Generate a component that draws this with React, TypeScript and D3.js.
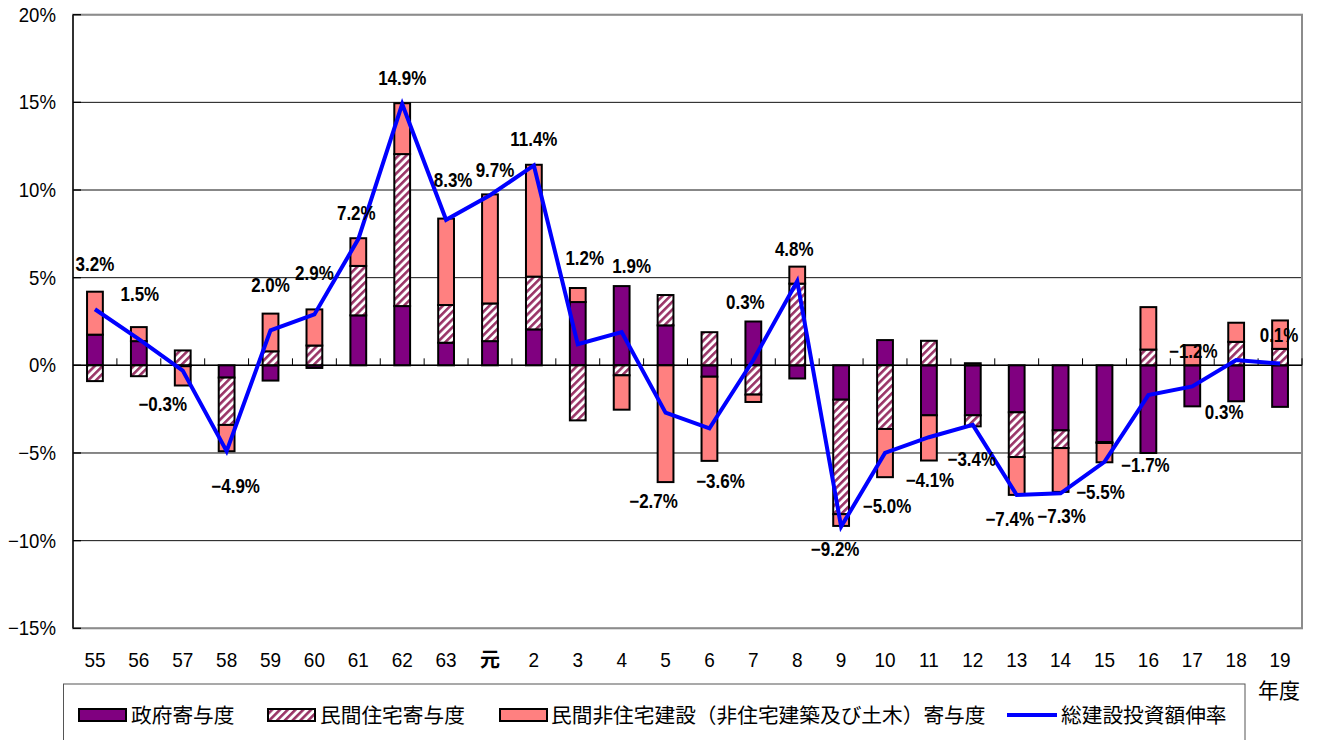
import { useMemo } from "react"
import * as d3 from "d3"

// fiscal years (Showa 55 .. Heisei 19)
const categories = ["55", "56", "57", "58", "59", "60", "61", "62", "63", "元", "2", "3", "4", "5", "6", "7", "8", "9", "10", "11", "12", "13", "14", "15", "16", "17", "18", "19"]

// 政府寄与度
const govt = [1.75, 1.38, -0.05, -0.7, -0.87, -0.15, 2.85, 3.38, 1.29, 1.38, 2.05, 3.61, 4.52, 2.28, -0.65, 2.5, -0.75, -1.96, 1.44, -2.85, -2.85, -2.68, -3.71, -4.38, -5.0, -2.34, -2.05, -2.37]
// 民間住宅寄与度
const housing = [-0.9, -0.62, 0.85, -2.7, 0.8, 1.13, 2.82, 8.67, 2.15, 2.15, 3.01, -3.14, -0.57, 1.73, 1.89, -1.67, 4.66, -6.53, -3.63, 1.4, -0.63, -2.55, -1.01, -0.05, 0.9, 0.0, 1.34, 0.94]
// 民間非住宅建設寄与度
const nonres = [2.45, 0.8, -1.1, -1.5, 2.15, 2.06, 1.58, 2.9, 4.93, 6.22, 6.38, 0.8, -1.96, -6.66, -4.8, -0.42, 0.97, -0.67, -2.75, -2.58, 0.12, -2.16, -2.5, -1.1, 2.42, 1.15, 1.09, 1.62]
// 総建設投資額伸率
const total = [3.2, 1.5, -0.3, -4.9, 2.0, 2.9, 7.2, 14.9, 8.3, 9.7, 11.4, 1.2, 1.9, -2.7, -3.6, 0.3, 4.8, -9.2, -5.0, -4.1, -3.4, -7.4, -7.3, -5.5, -1.7, -1.2, 0.3, 0.1]

const yTicks = [20, 15, 10, 5, 0, -5, -10, -15]

const seriesKeys = ["govt", "housing", "nonres"]
const seriesNames = ["政府寄与度", "民間住宅寄与度", "民間非住宅建設（非住宅建築及び土木）寄与度"]
const lineName = "総建設投資額伸率"

// label nudges (px) relative to each line point, like the hand-placed excel labels
const labelDx = [0, 1, -20, 9, 0, 0, -2, 0, 7, 5, 0, 7, 10, -12, 11, -8, -3, -6, 2, 1, -1, -7, 1, -4, -3, 1, -12, -1]
const labelDy = [-45, -45, 34, 35, -45, -41, -26, -26, -40, -25, -26, -86, -66, 89, 53, -58, -32, 23, 53, 43, 34, 24, 23, 30, 70, -35, 52, -28]

const W = 1318
const H = 740
const SANS = "'Liberation Sans', Arial, sans-serif"
const CJK = "'Noto Sans CJK JP', sans-serif"

const fills: Record<string, string> = {
  govt: "#800080",
  housing: "url(#hatch)",
  nonres: "#FF8080",
}

// narrow text: the original uses a condensed gothic face, so squeeze Liberation Sans
function NText(props: { x: number; y: number; sx: number; anchor: string; size: number; bold?: boolean; children: any }) {
  return (
    <g transform={`translate(${props.x},${props.y}) scale(${props.sx},1)`}>
      <text
        dy="0.35em"
        textAnchor={props.anchor}
        fontSize={props.size}
        fontWeight={props.bold ? "bold" : "normal"}
        fontFamily={SANS}
        fill="#000"
      >
        {props.children}
      </text>
    </g>
  )
}

export default function App() {
  const left = 73
  const right = 1302
  const top = 14.7
  const bottom = 628.3

  const x = d3.scaleBand().domain(categories).range([left, right]).padding(0)
  const y = d3.scaleLinear().domain([-15, 20]).range([bottom, top])
  const barW = x.bandwidth() * 0.36

  const stacked = useMemo(() => {
    const rows = categories.map((c, i) => ({ cat: c, govt: govt[i], housing: housing[i], nonres: nonres[i] }))
    return d3.stack<any>().keys(seriesKeys).offset(d3.stackOffsetDiverging)(rows)
  }, [])

  const cx = (c: string) => (x(c) || 0) + x.bandwidth() / 2

  const line = d3
    .line<number>()
    .x((_, i) => cx(categories[i]))
    .y((d) => y(d))

  const fmt = d3.format(".1f")

  return (
    <svg width={W} height={H} style={{ position: "absolute", left: 0, top: 0, background: "#fff" }}>
      <defs>
        <pattern id="hatch" patternUnits="userSpaceOnUse" width="5.5" height="5.5" patternTransform="rotate(45)">
          <rect width="5.5" height="5.5" fill="#fff" />
          <rect width="2.6" height="5.5" fill="#993366" />
        </pattern>
      </defs>

      {/* gridlines */}
      {yTicks.map((t) => (
        <line key={t} x1={left} x2={right} y1={y(t)} y2={y(t)} stroke="#111" strokeWidth={1} />
      ))}
      {/* plot border */}
      <rect x={left} y={top} width={right - left} height={bottom - top} fill="none" stroke="#8c8c8c" strokeWidth={2} />
      {/* y axis */}
      <line x1={left} x2={left} y1={top} y2={bottom} stroke="#000" strokeWidth={1.3} />
      {yTicks.map((t) => (
        <g key={"yt" + t}>
          <line x1={left} x2={left + 8} y1={y(t)} y2={y(t)} stroke="#000" strokeWidth={1.3} />
          <NText x={56} y={y(t)} sx={0.93} anchor="end" size={20}>
            {d3.format("")(t)}%
          </NText>
        </g>
      ))}

      {/* bars */}
      {stacked.map((s) => (
        <g key={s.key}>
          {s.map((d, i) => {
            const y0 = y(d[0])
            const y1 = y(d[1])
            if (Math.abs(y0 - y1) < 0.01) return null
            return (
              <rect
                key={i}
                x={cx(categories[i]) - barW / 2}
                y={Math.min(y0, y1)}
                width={barW}
                height={Math.abs(y0 - y1)}
                fill={fills[s.key]}
                stroke="#000"
                strokeWidth={2}
              />
            )
          })}
        </g>
      ))}

      {/* zero axis with inside ticks */}
      <line x1={left} x2={right} y1={y(0)} y2={y(0)} stroke="#000" strokeWidth={1.5} />
      {categories.map((c) => (
        <line key={"xt" + c} x1={(x(c) || 0) + x.bandwidth()} x2={(x(c) || 0) + x.bandwidth()} y1={y(0)} y2={y(0) - 7} stroke="#000" strokeWidth={1} />
      ))}

      {/* total growth line */}
      <path d={line(total) || ""} fill="none" stroke="#0000FF" strokeWidth={4} strokeLinejoin="miter" />

      {/* data labels */}
      {total.map((v, i) => (
        <NText key={"lb" + i} x={cx(categories[i]) + labelDx[i]} y={y(v) + labelDy[i]} sx={0.87} anchor="middle" size={19.5} bold>
          {fmt(v)}%
        </NText>
      ))}

      {/* x labels */}
      {categories.map((c) =>
        c === "元" ? (
          <text key={"xl" + c} x={cx(c)} y={667} textAnchor="middle" fontSize={20} fontWeight="bold" fontFamily={CJK} fill="#000">
            {c}
          </text>
        ) : (
          <NText key={"xl" + c} x={cx(c)} y={660} sx={0.95} anchor="middle" size={20}>
            {c}
          </NText>
        ),
      )}
      <text x={1279} y={698} textAnchor="middle" fontSize={21} fontFamily={CJK} fill="#000">
        年度
      </text>

      {/* legend */}
      <rect x={63.5} y={684} width={1181.5} height={80} fill="#fff" stroke="#555" strokeWidth={1} />
      <g fontFamily={CJK} fontSize={20.7} fill="#000">
        <rect x={79} y={709} width={47} height={12} fill={fills.govt} stroke="#000" strokeWidth={2} />
        <text x={131} y={716} dy="0.35em">{seriesNames[0]}</text>
        <rect x={268} y={709} width={47} height={12} fill={fills.housing} stroke="#000" strokeWidth={2} />
        <text x={320} y={716} dy="0.35em">{seriesNames[1]}</text>
        <rect x={500} y={709} width={47} height={12} fill={fills.nonres} stroke="#000" strokeWidth={2} />
        <text x={551} y={716} dy="0.35em">{seriesNames[2]}</text>
        <line x1={1007} x2={1057} y1={715} y2={715} stroke="#0000FF" strokeWidth={4} />
        <text x={1061} y={716} dy="0.35em">{lineName}</text>
      </g>
    </svg>
  )
}
